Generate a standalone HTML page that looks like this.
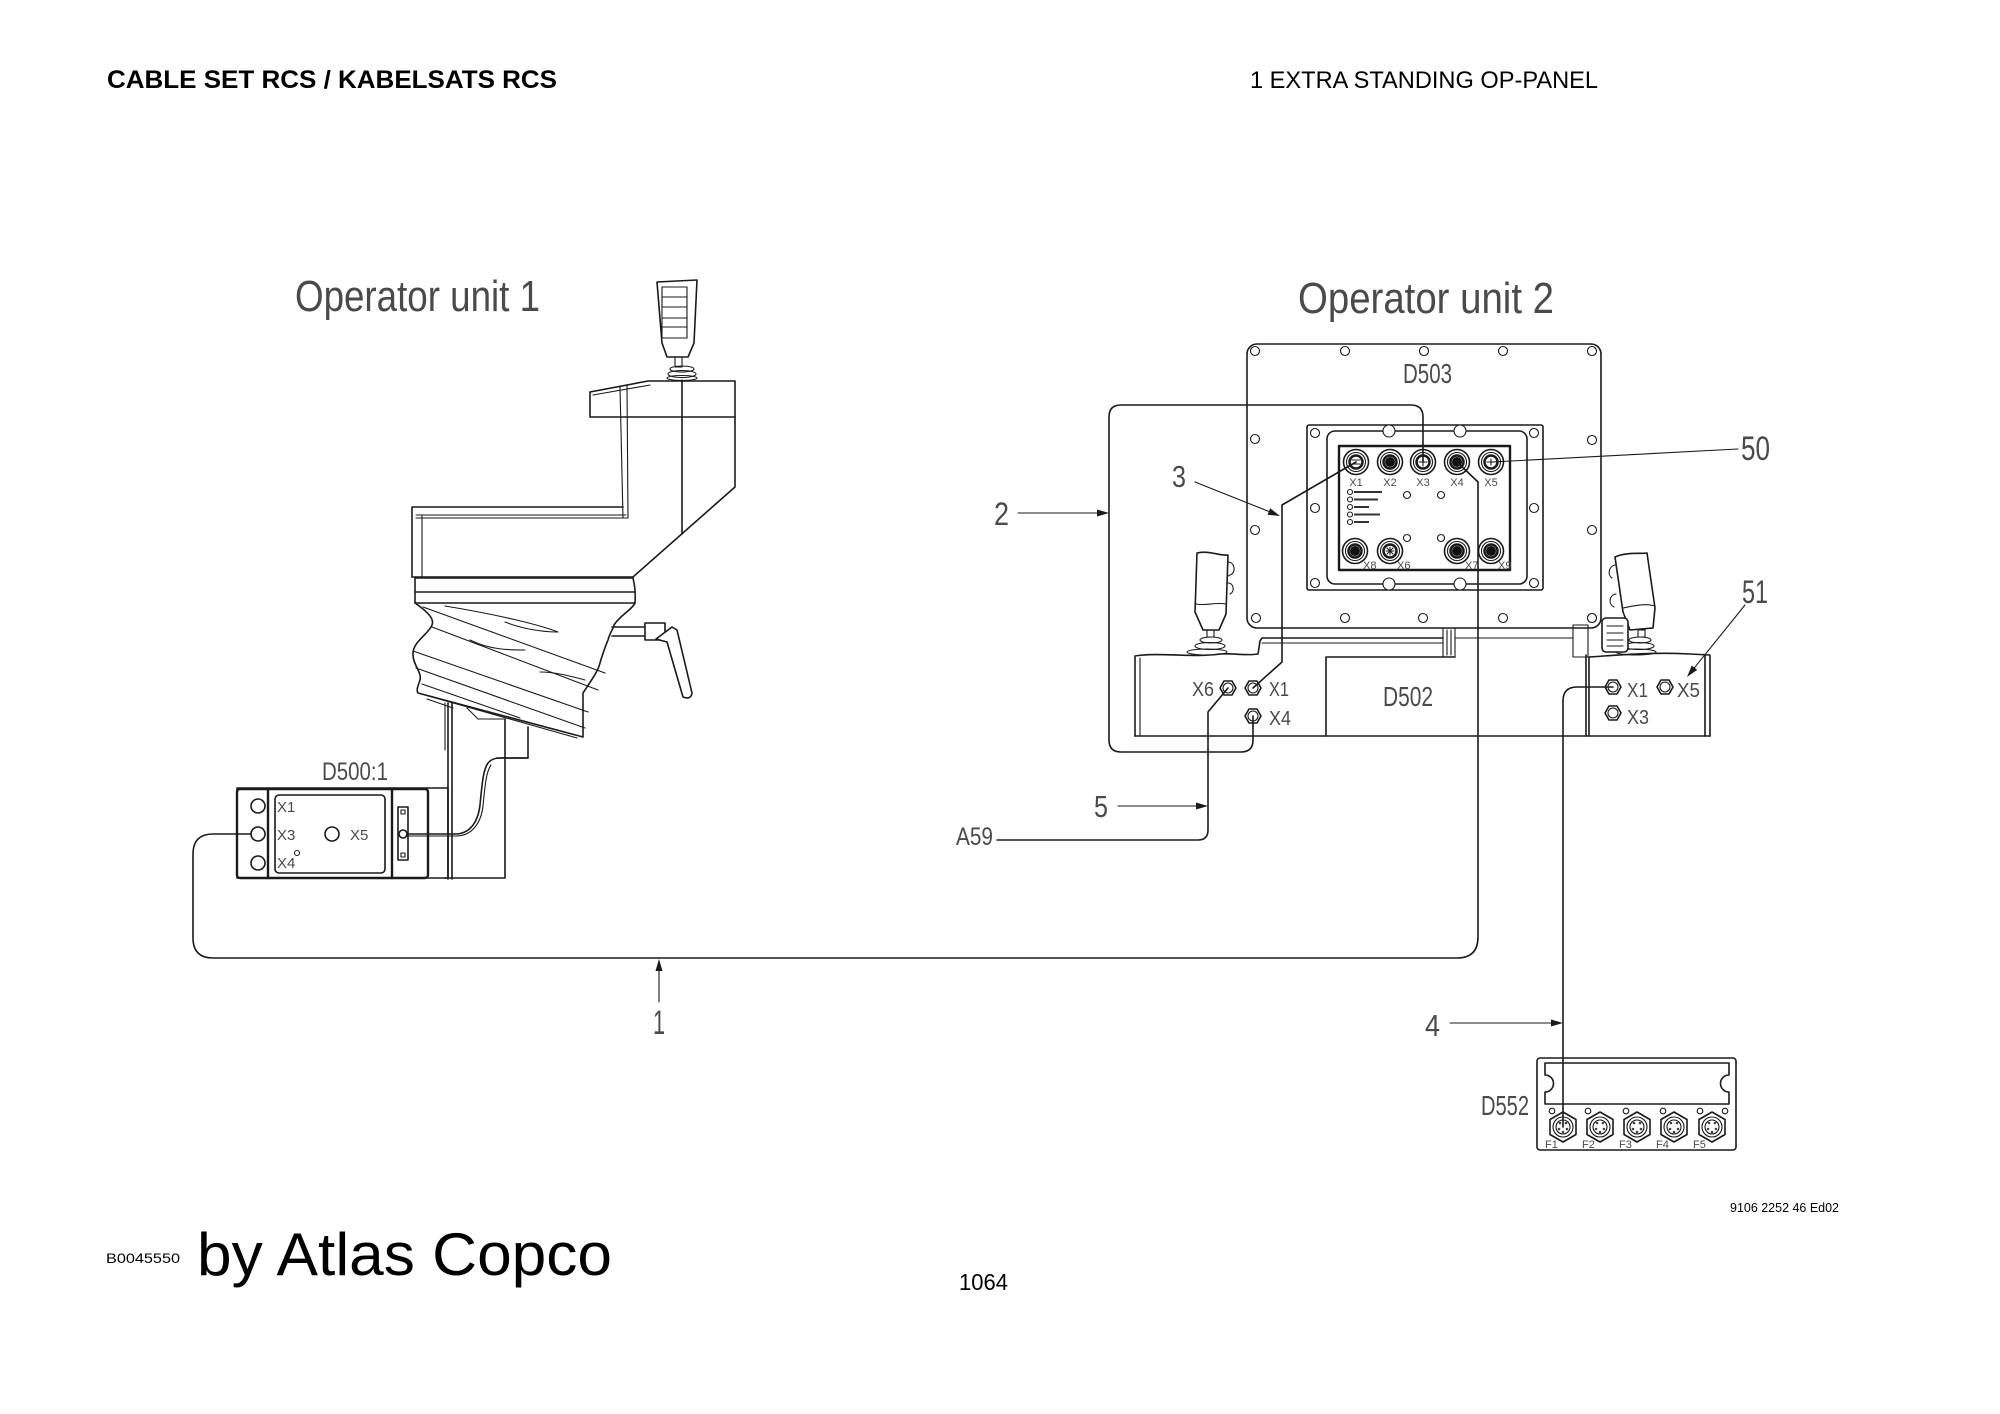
<!DOCTYPE html>
<html>
<head>
<meta charset="utf-8">
<style>
html,body{margin:0;padding:0;background:#fff;}
svg{display:block;}
.l{fill:none;stroke:#1a1a1a;stroke-width:1.6;stroke-linecap:round;stroke-linejoin:round;}
.t{stroke-width:1.1;}
.b{stroke-width:2.4;}
.w{fill:#fff;}
.cad{font-family:"Liberation Sans",sans-serif;fill:#4a4a4a;}
</style>
</head>
<body>
<svg width="2000" height="1414" viewBox="0 0 2000 1414" xmlns="http://www.w3.org/2000/svg">
<rect width="2000" height="1414" fill="#fff"/>

<!-- Header -->
<text x="107" y="88" font-family="Liberation Sans, sans-serif" font-weight="bold" font-size="25" textLength="450" lengthAdjust="spacingAndGlyphs" fill="#000">CABLE SET RCS / KABELSATS RCS</text>
<text x="1250" y="88" font-family="Liberation Sans, sans-serif" font-size="24" textLength="348" lengthAdjust="spacingAndGlyphs" fill="#000">1 EXTRA STANDING OP-PANEL</text>

<!-- Titles -->
<text class="cad" x="295" y="311" font-size="44" textLength="245" lengthAdjust="spacingAndGlyphs">Operator unit 1</text>
<text class="cad" x="1298" y="313" font-size="44" textLength="256" lengthAdjust="spacingAndGlyphs">Operator unit 2</text>

<!-- ============ OPERATOR UNIT 1 ============ -->
<!-- joystick -->
<path class="l" d="M657,282 L697,280 L694,343 L688,357 L667,357 L662,343 Z"/>
<rect class="l t" x="662" y="287" width="25" height="51"/>
<path class="l t" d="M662,297 H687 M662,307 H687 M662,318 H687 M662,327 H687"/>
<rect class="l t" x="675" y="357" width="7" height="10"/>
<ellipse class="l t" cx="682" cy="369" rx="12" ry="3"/>
<ellipse class="l t" cx="682" cy="374" rx="14" ry="3.5"/>
<ellipse class="l t" cx="682" cy="378" rx="15" ry="2.5"/>

<!-- console -->
<path class="l" d="M590,392 L648,381 H735 V487 L633,577"/>
<path class="l t" d="M593,395 L650,385"/>
<path class="l" d="M590,392 V417 H735"/>
<path class="l" d="M682,380 V534"/>
<path class="l t" d="M620,387 L623,518 M627,385 L628,518"/>
<path class="l" d="M412,577 V507 H623"/>
<path class="l t" d="M416,515 H626 M416,518 H628 M422,515 V577"/>
<path class="l" d="M412,577 H633"/>
<!-- band -->
<path class="l" d="M415,578 H633 M415,592 H634 M415,603 H635 M415,578 V603 M633,578 Q636,590 635,603"/>
<!-- bellows -->
<path class="l" d="M415,603 C425,610 435,618 432,625 C428,635 412,642 413,655 C413,665 422,672 420,680 C418,686 416,690 418,693 L583,737 V693 C588,685 598,672 600,663 C603,652 606,645 608,640 C610,632 614,628 614,625 C620,615 632,610 635,603"/>
<path class="l t" d="M423,607 L605,673 M445,606 C500,615 540,625 558,632 C540,632 520,628 505,622"/>
<path class="l t" d="M432,627 L598,690 M413,651 L588,712 M416,668 L585,728 M422,684 L520,718"/>
<path class="l t" d="M470,640 C490,650 510,650 525,650 M540,672 C555,672 570,676 585,680"/>
<!-- handle -->
<path class="l" d="M612,627 H645 M612,636 H645"/>
<rect class="l w" x="645" y="623" width="20" height="17"/>
<path class="l w" d="M656,639 L672,627 L677,630 L692,693 Q691,700 683,697 L667,642 Z"/>
<!-- below bellows -->
<path class="l t" d="M425,695 L577,738 M427,699 L453,708 M467,708 L478,719 H505"/>
<path class="l t" d="M445,703 V750"/>
<path class="l" d="M448,703 V879 M452,703 V879 M505,719 V878 M445,878 H505"/>
<path class="l" d="M528,727 V758 H497"/>
<!-- D500 plate -->
<rect class="l" x="237" y="788" width="211" height="90"/>
<rect class="l b" x="237" y="789" width="191" height="89" rx="3"/>
<path class="l b" d="M268,789 V878 M392,789 V878"/>
<rect class="l" x="275" y="795" width="110" height="78" rx="4"/>
<circle class="l" cx="258" cy="806" r="7"/>
<circle class="l" cx="258" cy="834" r="7"/>
<circle class="l" cx="258" cy="863" r="7"/>
<circle class="l" cx="332" cy="834" r="7"/>
<circle class="l t" cx="297" cy="853" r="2.5"/>
<rect class="l" x="398" y="807" width="10" height="53"/>
<rect class="l t" x="401" y="810" width="4" height="4"/>
<rect class="l t" x="401" y="853" width="4" height="4"/>
<circle class="l" cx="403" cy="834" r="4"/>
<text class="cad" x="277" y="812" font-size="15">X1</text>
<text class="cad" x="277" y="840" font-size="15">X3</text>
<text class="cad" x="277" y="868" font-size="15">X4</text>
<text class="cad" x="350" y="840" font-size="15">X5</text>
<text class="cad" x="322" y="780" font-size="25" textLength="66" lengthAdjust="spacingAndGlyphs">D500:1</text>
<!-- internal cable -->
<path class="l" d="M407,834 H455 C470,834 478,822 480,805 C482,785 483,770 488,763 C491,759 495,758 500,758 H528"/>
<path class="l t" d="M407,836 H456 C472,836 481,823 483,806 C485,786 486,772 491,765"/>

<!-- ============ OPERATOR UNIT 2 ============ -->
<!-- D503 outer panel -->
<rect class="l" x="1247" y="344" width="354" height="284" rx="10"/>
<g class="l t">
<circle cx="1255" cy="351" r="4.5"/><circle cx="1345" cy="351" r="4.5"/><circle cx="1424" cy="351" r="4.5"/><circle cx="1503" cy="351" r="4.5"/><circle cx="1592" cy="351" r="4.5"/>
<circle cx="1255" cy="439" r="4.5"/><circle cx="1255" cy="530" r="4.5"/>
<circle cx="1592" cy="440" r="4.5"/><circle cx="1592" cy="530" r="4.5"/>
<circle cx="1256" cy="618" r="4.5"/><circle cx="1345" cy="618" r="4.5"/><circle cx="1423" cy="618" r="4.5"/><circle cx="1503" cy="618" r="4.5"/><circle cx="1592" cy="618" r="4.5"/>
</g>
<text class="cad" x="1403" y="383" font-size="28" textLength="49" lengthAdjust="spacingAndGlyphs">D503</text>
<!-- flange -->
<rect class="l" x="1307" y="425" width="236" height="165" rx="2"/>
<rect class="l" x="1327" y="431" width="200" height="153" rx="8"/>
<g class="l t">
<circle cx="1315" cy="433" r="4.5"/><circle cx="1534" cy="433" r="4.5"/>
<circle cx="1315" cy="508" r="4.5"/><circle cx="1534" cy="508" r="4.5"/>
<circle cx="1315" cy="583" r="4.5"/><circle cx="1534" cy="583" r="4.5"/>
</g>
<g class="l t w">
<circle cx="1389" cy="431" r="6"/><circle cx="1460" cy="431" r="6"/>
<circle cx="1389" cy="584" r="6"/><circle cx="1460" cy="584" r="6"/>
</g>
<rect class="l b" x="1339" y="446" width="171" height="124"/>
<!-- connectors -->
<g class="l">
<circle cx="1356" cy="462" r="12.5"/><circle cx="1356" cy="462" r="9.5" class="l t"/><circle cx="1356" cy="462" r="6.5" stroke-width="2.5"/>
<circle cx="1390" cy="462" r="12.5"/><circle cx="1390" cy="462" r="9.5" class="l t"/><circle cx="1390" cy="462" r="6.5" stroke-width="2.5"/>
<circle cx="1423" cy="462" r="12.5"/><circle cx="1423" cy="462" r="9.5" class="l t"/><circle cx="1423" cy="462" r="6.5" stroke-width="2.5"/>
<circle cx="1457" cy="462" r="12.5"/><circle cx="1457" cy="462" r="9.5" class="l t"/><circle cx="1457" cy="462" r="6.5" stroke-width="2.5"/>
<circle cx="1491" cy="462" r="12.5"/><circle cx="1491" cy="462" r="9.5" class="l t"/><circle cx="1491" cy="462" r="6.5" stroke-width="2.5"/>
<circle cx="1355" cy="551" r="12.5"/><circle cx="1355" cy="551" r="9.5" class="l t"/><circle cx="1355" cy="551" r="6.5" stroke-width="2.5"/>
<circle cx="1390" cy="551" r="12.5"/><circle cx="1390" cy="551" r="9.5" class="l t"/><circle cx="1390" cy="551" r="6.5" stroke-width="2.5"/>
<circle cx="1457" cy="551" r="12.5"/><circle cx="1457" cy="551" r="9.5" class="l t"/><circle cx="1457" cy="551" r="6.5" stroke-width="2.5"/>
<circle cx="1491" cy="551" r="12.5"/><circle cx="1491" cy="551" r="9.5" class="l t"/><circle cx="1491" cy="551" r="6.5" stroke-width="2.5"/>
</g>
<g fill="#111">
<circle cx="1390" cy="462" r="5"/><circle cx="1457" cy="462" r="5"/>
<circle cx="1355" cy="551" r="5"/><circle cx="1457" cy="551" r="5"/><circle cx="1491" cy="551" r="5"/>
</g>
<g class="l t">
<path d="M1352,460 H1360 M1352,464 H1360 M1423,458 V466 M1419,462 H1427 M1487,462 H1495 M1491,459 V465 M1386,551 H1394 M1390,547 V555 M1387,548 L1393,554 M1393,548 L1387,554"/>
</g>
<g class="cad" font-size="11" text-anchor="middle">
<text x="1356" y="486">X1</text><text x="1390" y="486">X2</text><text x="1423" y="486">X3</text><text x="1457" y="486">X4</text><text x="1491" y="486">X5</text>
</g>
<g class="cad" font-size="11">
<text x="1363" y="569">X8</text><text x="1397" y="569">X6</text><text x="1465" y="569">X7</text><text x="1498" y="569">X9</text>
</g>
<!-- LEDs -->
<g class="l t">
<circle cx="1350" cy="492" r="2.5"/><circle cx="1350" cy="499.5" r="2.5"/><circle cx="1350" cy="507" r="2.5"/><circle cx="1350" cy="514.5" r="2.5"/><circle cx="1350" cy="522" r="2.5"/>
<circle cx="1407" cy="495" r="3.5"/><circle cx="1441" cy="495" r="3.5"/><circle cx="1407" cy="538" r="3.5"/><circle cx="1441" cy="538" r="3.5"/>
</g>
<g fill="#333">
<rect x="1354" y="491" width="28" height="2"/><rect x="1354" y="498.5" width="24" height="2"/><rect x="1354" y="506" width="15" height="2"/><rect x="1354" y="513.5" width="26" height="2"/><rect x="1354" y="521" width="15" height="2"/>
</g>

<!-- Base D502 -->
<path class="l" d="M1135,736 V656 C1160,652 1190,658 1220,654 C1235,653 1245,656 1258,654 L1260,641 L1262,638 H1443"/>
<path class="l t" d="M1262,643 H1443 M1140,658 V736"/>
<path class="l" d="M1135,736 H1710"/>
<path class="l" d="M1326,736 V657 H1455"/>
<rect class="l t" x="1443" y="628" width="12" height="29"/>
<path class="l t" d="M1447,630 V655 M1451,630 V655"/>
<path class="l t" d="M1455,638 H1573"/>
<rect class="l t" x="1573" y="625" width="15" height="32"/>
<path class="l" d="M1586,736 V655 M1589,736 V657 C1620,655 1650,652 1690,654 L1710,655 V736 M1705,655 V736"/>
<text class="cad" x="1383" y="706" font-size="28" textLength="50" lengthAdjust="spacingAndGlyphs">D502</text>

<!-- left joystick -->
<path class="l w" d="M1197,553 C1208,550 1220,556 1228,555 L1226,614 L1219,630 L1203,630 L1195,612 Z"/>
<path class="l t" d="M1196,604 C1205,606 1215,602 1226,604"/>
<path class="l t" d="M1228,562 C1234,562 1236,570 1232,574 L1228,576 M1228,583 C1234,583 1235,592 1230,594"/>
<rect class="l t" x="1207" y="630" width="7" height="7"/>
<ellipse class="l t" cx="1211" cy="640" rx="11" ry="3"/>
<ellipse class="l t" cx="1210" cy="646" rx="15" ry="3.5"/>
<ellipse class="l t" cx="1207" cy="652" rx="20" ry="3"/>
<!-- right joystick -->
<path class="l w" d="M1615,557 C1625,552 1640,554 1647,553 L1655,608 L1653,628 L1630,630 L1623,612 Z"/>
<path class="l t" d="M1623,608 C1633,606 1645,603 1655,606"/>
<path class="l t" d="M1615,565 C1609,566 1607,575 1612,578 M1616,594 C1609,595 1608,604 1614,607"/>
<rect class="l t" x="1638" y="630" width="7" height="7"/>
<ellipse class="l t" cx="1640" cy="640" rx="11" ry="3"/>
<ellipse class="l t" cx="1639" cy="646" rx="15" ry="3.5"/>
<ellipse class="l t" cx="1636" cy="652" rx="20" ry="3"/>
<rect class="l w" x="1602" y="618" width="26" height="34" rx="4"/>
<path class="l t" d="M1607,626 H1623 M1607,633 H1623 M1607,640 H1623 M1607,646 H1623"/>
<circle class="l t w" cx="1592" cy="618" r="4.5"/>

<!-- hex nuts -->
<g class="l w">
<polygon points="1236,688 1232,695 1224,695 1220,688 1224,681 1232,681"/>
<polygon points="1261,688 1257,695 1249,695 1245,688 1249,681 1257,681"/>
<polygon points="1261,716 1257,723 1249,723 1245,716 1249,709 1257,709"/>
<polygon points="1621,687 1617,694 1609,694 1605,687 1609,680 1617,680"/>
<polygon points="1673,687 1669,694 1661,694 1657,687 1661,680 1669,680"/>
<polygon points="1621,713 1617,720 1609,720 1605,713 1609,706 1617,706"/>
</g>
<g class="l t">
<circle cx="1228" cy="688" r="5"/><circle cx="1253" cy="688" r="5"/><circle cx="1253" cy="716" r="5"/>
<circle cx="1613" cy="687" r="5"/><circle cx="1665" cy="687" r="5"/><circle cx="1613" cy="713" r="5"/>
</g>
<g class="cad" font-size="20">
<text x="1192" y="696" textLength="22" lengthAdjust="spacingAndGlyphs">X6</text>
<text x="1269" y="696" textLength="20" lengthAdjust="spacingAndGlyphs">X1</text>
<text x="1269" y="725" textLength="22" lengthAdjust="spacingAndGlyphs">X4</text>
<text x="1627" y="697" textLength="21" lengthAdjust="spacingAndGlyphs">X1</text>
<text x="1677" y="697" textLength="23" lengthAdjust="spacingAndGlyphs">X5</text>
<text x="1627" y="724" textLength="22" lengthAdjust="spacingAndGlyphs">X3</text>
</g>

<!-- D552 -->
<rect class="l" stroke-width="1.8" x="1537" y="1058" width="199" height="92" rx="3"/>
<path class="l" d="M1545,1063 H1729 V1075 A8,8 0 0 0 1729,1092 V1104 H1545 V1092 A8,8 0 0 0 1545,1075 Z"/>
<g class="l">
<polygon points="1563,1112 1576,1119.5 1576,1134.5 1563,1142 1550,1134.5 1550,1119.5"/>
<polygon points="1600,1112 1613,1119.5 1613,1134.5 1600,1142 1587,1134.5 1587,1119.5"/>
<polygon points="1637,1112 1650,1119.5 1650,1134.5 1637,1142 1624,1134.5 1624,1119.5"/>
<polygon points="1674,1112 1687,1119.5 1687,1134.5 1674,1142 1661,1134.5 1661,1119.5"/>
<polygon points="1712,1112 1725,1119.5 1725,1134.5 1712,1142 1699,1134.5 1699,1119.5"/>
</g>
<g class="l t">
<circle cx="1563" cy="1127" r="10"/><circle cx="1563" cy="1127" r="7"/>
<circle cx="1600" cy="1127" r="10"/><circle cx="1600" cy="1127" r="7"/>
<circle cx="1637" cy="1127" r="10"/><circle cx="1637" cy="1127" r="7"/>
<circle cx="1674" cy="1127" r="10"/><circle cx="1674" cy="1127" r="7"/>
<circle cx="1712" cy="1127" r="10"/><circle cx="1712" cy="1127" r="7"/>
<circle cx="1552" cy="1111" r="2.8"/><circle cx="1588" cy="1111" r="2.8"/><circle cx="1626" cy="1111" r="2.8"/><circle cx="1663" cy="1111" r="2.8"/><circle cx="1700" cy="1111" r="2.8"/><circle cx="1725" cy="1111" r="2.8"/>
</g>
<g fill="#444">
<circle cx="1560" cy="1123" r="1.3"/><circle cx="1566" cy="1123" r="1.3"/><circle cx="1559" cy="1129" r="1.3"/><circle cx="1567" cy="1129" r="1.3"/><circle cx="1563" cy="1132" r="1.3"/>
<circle cx="1597" cy="1123" r="1.3"/><circle cx="1603" cy="1123" r="1.3"/><circle cx="1596" cy="1129" r="1.3"/><circle cx="1604" cy="1129" r="1.3"/><circle cx="1600" cy="1132" r="1.3"/>
<circle cx="1634" cy="1123" r="1.3"/><circle cx="1640" cy="1123" r="1.3"/><circle cx="1633" cy="1129" r="1.3"/><circle cx="1641" cy="1129" r="1.3"/><circle cx="1637" cy="1132" r="1.3"/>
<circle cx="1671" cy="1123" r="1.3"/><circle cx="1677" cy="1123" r="1.3"/><circle cx="1670" cy="1129" r="1.3"/><circle cx="1678" cy="1129" r="1.3"/><circle cx="1674" cy="1132" r="1.3"/>
<circle cx="1709" cy="1123" r="1.3"/><circle cx="1715" cy="1123" r="1.3"/><circle cx="1708" cy="1129" r="1.3"/><circle cx="1716" cy="1129" r="1.3"/><circle cx="1712" cy="1132" r="1.3"/>
</g>
<g class="cad" font-size="11">
<text x="1545" y="1148">F1</text><text x="1582" y="1148">F2</text><text x="1619" y="1148">F3</text><text x="1656" y="1148">F4</text><text x="1693" y="1148">F5</text>
</g>
<text class="cad" x="1481" y="1115" font-size="28" textLength="48" lengthAdjust="spacingAndGlyphs">D552</text>

<!-- ============ CABLES ============ -->
<path class="l" d="M251,834 H213 Q193,834 193,854 V938 Q193,958 213,958 H1457 Q1478,958 1478,937 V482 L1457,462"/>
<path class="l" d="M1423,462 V417 Q1423,405 1411,405 H1121 Q1109,405 1109,417 V740 Q1109,752 1121,752 H1241 Q1253,752 1253,740 V716"/>
<path class="l" d="M1356,462 L1282,505 V662 L1253,688"/>
<path class="l" d="M1228,688 L1208,712 V830 Q1208,840 1198,840 H997"/>
<path class="l" d="M1613,687 H1577 Q1563,687 1563,701 V1127"/>
<path class="l t" d="M1492,462 L1738,449"/>

<!-- arrows -->
<path class="l t" d="M659,1002 V968"/>
<polygon points="659,959 655.5,971 662.5,971" fill="#1a1a1a"/>
<path class="l t" d="M1018,513 H1098"/>
<polygon points="1109,513 1097,509.5 1097,516.5" fill="#1a1a1a"/>
<path class="l t" d="M1195,482 L1269,511.5"/>
<polygon points="1280,516 1267.6,514.8 1270.2,508.3" fill="#1a1a1a"/>
<path class="l t" d="M1118,806 H1197"/>
<polygon points="1208,806 1196,802.5 1196,809.5" fill="#1a1a1a"/>
<path class="l t" d="M1450,1023 H1552"/>
<polygon points="1563,1023 1551,1019.5 1551,1026.5" fill="#1a1a1a"/>
<path class="l t" d="M1745,605 L1694.5,667.7"/>
<polygon points="1687,677 1697.2,669.9 1691.8,665.5" fill="#1a1a1a"/>

<!-- leader labels -->
<g class="cad">
<text x="659" y="1034" font-size="34" text-anchor="middle" textLength="12" lengthAdjust="spacingAndGlyphs">1</text>
<text x="994" y="525" font-size="32" textLength="15" lengthAdjust="spacingAndGlyphs">2</text>
<text x="1172" y="487" font-size="31" textLength="14" lengthAdjust="spacingAndGlyphs">3</text>
<text x="1425" y="1036" font-size="31" textLength="15" lengthAdjust="spacingAndGlyphs">4</text>
<text x="1094" y="817" font-size="31" textLength="14" lengthAdjust="spacingAndGlyphs">5</text>
<text x="1741" y="460" font-size="34" textLength="29" lengthAdjust="spacingAndGlyphs">50</text>
<text x="1742" y="603" font-size="32" textLength="26" lengthAdjust="spacingAndGlyphs">51</text>
<text x="956" y="845" font-size="25" textLength="37" lengthAdjust="spacingAndGlyphs">A59</text>
</g>

<!-- Footer -->
<text x="106" y="1263" font-family="Liberation Sans, sans-serif" font-size="14" textLength="74" lengthAdjust="spacingAndGlyphs" fill="#000">B0045550</text>
<text x="197" y="1275" font-family="Liberation Sans, sans-serif" font-size="60" textLength="415" lengthAdjust="spacingAndGlyphs" fill="#000">by Atlas Copco</text>
<text x="959" y="1290" font-family="Liberation Sans, sans-serif" font-size="23" textLength="49" lengthAdjust="spacingAndGlyphs" fill="#000">1064</text>
<text x="1730" y="1212" font-family="Liberation Sans, sans-serif" font-size="13" textLength="109" lengthAdjust="spacingAndGlyphs" fill="#000">9106 2252 46 Ed02</text>
</svg>
</body>
</html>
